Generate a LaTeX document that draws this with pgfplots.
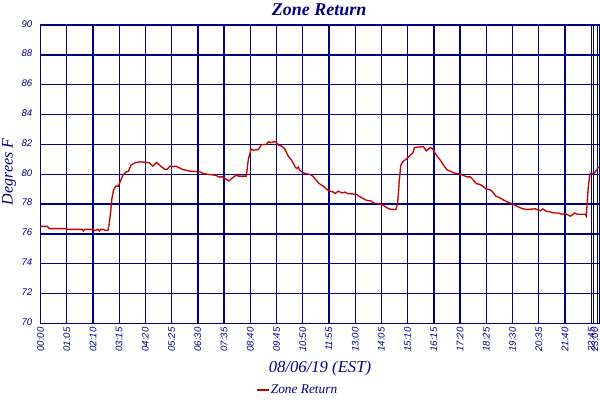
\documentclass[border=0pt]{standalone}
\usepackage{fontspec}
\setmainfont{Liberation Serif}
\newfontfamily\tickfont{Liberation Sans}
\usepackage{pgfplots}
\pgfplotsset{compat=1.18}
\definecolor{navy}{RGB}{0,0,128}
\definecolor{linered}{RGB}{200,0,0}
\begin{document}
\begin{tikzpicture}
\useasboundingbox (-30.375pt,-57.5pt) rectangle (419.625pt,242.5pt);
\fill[white] (-30.375pt,-57.5pt) rectangle (419.625pt,242.5pt);
\begin{axis}[
  anchor=south west, at={(0pt,0pt)},
  scale only axis, width=419.1pt, height=223.7pt,
  xmin=0, xmax=1385, ymin=70, ymax=90,
  xtick={0,65,130,195,260,325,390,455,520,585,650,715,780,845,910,975,1040,1105,1170,1235,1300,1365},
  xticklabels={00:00,01:05,02:10,03:15,04:20,05:25,06:30,07:35,08:40,09:45,10:50,11:55,13:00,14:05,15:10,16:15,17:20,18:25,19:30,20:35,21:40,22:45},
  extra x ticks={1371,1380}, extra x tick labels={,23:00},
  extra x tick style={xticklabel style={yshift=1.8pt}},
  ytick={70,72,...,90},
  grid=major,
  major grid style={navy, line width=1pt},
  axis line style={navy, line width=1pt},
  major tick length=0pt,
  /pgf/number format/assume math mode=true,
  ticklabel style={font=\tickfont\itshape\fontsize{7.2}{8}\selectfont, text=navy},
  xticklabel style={rotate=90, anchor=east, inner sep=0pt},
  xticklabel shift=3pt,
  yticklabel style={anchor=east, inner sep=0pt, yshift=1pt},
  yticklabel shift=6pt,
  legend style={at={(axis description cs:0.3856,-0.2235)}, anchor=west, draw=none, fill=none, inner sep=0pt,
     nodes={inner sep=1pt, text=navy, font=\itshape\fontsize{10}{11}\selectfont}},
  legend image code/.code={\draw[#1, line width=1pt] (0pt,0pt) -- (9pt,0pt);},
]
\addplot[linered, line width=1pt] coordinates {
(0,76.5)(17,76.5)(22,76.35)(63,76.35)(67,76.3)(103,76.3)(106,76.2)(110,76.3)(130,76.3)(133,76.22)(143,76.3)(146,76.2)(149,76.3)(155,76.3)(162,76.22)(167,76.22)(170,76.6)(174,77.5)(177,78.37)(181,78.93)(187,79.2)(193,79.2)(199,79.6)(204,79.93)(212,80.15)(218,80.2)(224,80.6)(234,80.76)(247,80.83)(263,80.79)(270,80.76)(278,80.54)(288,80.79)(298,80.54)(309,80.31)(314,80.33)(321,80.54)(329,80.5)(336,80.54)(342,80.45)(353,80.31)(371,80.2)(395,80.16)(404,80.04)(420,79.97)(435,79.93)(441,79.82)(450,79.82)(456,79.75)(462,79.64)(467,79.55)(474,79.71)(482,79.87)(486,79.98)(490,79.87)(510,79.87)(513,80.49)(515,80.98)(519,81.39)(522,81.68)(528,81.61)(540,81.65)(544,81.83)(548,81.99)(559,81.99)(565,82.17)(573,82.12)(581,82.2)(586,82.08)(590,81.95)(598,81.88)(605,81.72)(609,81.5)(614,81.21)(621,80.98)(627,80.72)(631,80.49)(635,80.38)(639,80.49)(642,80.27)(648,80.16)(652,80.09)(656,80.05)(668,79.98)(675,79.87)(683,79.6)(691,79.37)(701,79.19)(710,78.97)(718,78.86)(726,78.8)(730,78.7)(738,78.86)(747,78.75)(755,78.8)(761,78.7)(772,78.68)(784,78.64)(792,78.48)(800,78.37)(807,78.26)(821,78.19)(825,78.07)(835,78.03)(849,77.92)(858,77.76)(867,77.65)(881,77.63)(885,78.03)(887,78.7)(889,79.5)(893,80.6)(898,80.83)(908,81.05)(914,81.21)(923,81.43)(927,81.79)(941,81.83)(949,81.85)(956,81.56)(966,81.79)(972,81.7)(981,81.28)(991,80.94)(999,80.6)(1007,80.31)(1015,80.2)(1024,80.09)(1040,80)(1057,79.82)(1065,79.82)(1073,79.6)(1080,79.37)(1090,79.31)(1098,79.15)(1105,79)(1113,78.97)(1119,78.86)(1129,78.52)(1139,78.41)(1148,78.26)(1157,78.14)(1168,78.03)(1181,77.85)(1193,77.7)(1206,77.63)(1222,77.67)(1226,77.7)(1230,77.63)(1239,77.54)(1245,77.67)(1253,77.52)(1263,77.47)(1272,77.4)(1284,77.4)(1292,77.32)(1300,77.36)(1309,77.25)(1313,77.18)(1317,77.25)(1323,77.4)(1330,77.32)(1350,77.32)(1353,77.18)(1354,77.7)(1357,78.93)(1360,79.64)(1362,80.04)(1372,80.04)(1379,80.31)(1383,80.5)
};
\addlegendentry{Zone Return}
\end{axis}
\node[anchor=base, text=navy, font=\bfseries\itshape\fontsize{13.5}{15}\selectfont] at (208.9pt,231.2pt) {Zone Return};
\node[anchor=base, text=navy, font=\itshape\fontsize{12.5}{14}\selectfont] at (209.6pt,-36.5pt) {08/06/19 (EST)};
\node[rotate=90, anchor=center, text=navy, font=\itshape\fontsize{12}{14}\selectfont] at (-23.6pt,113.5pt) {Degrees F};
\end{tikzpicture}
\end{document}
